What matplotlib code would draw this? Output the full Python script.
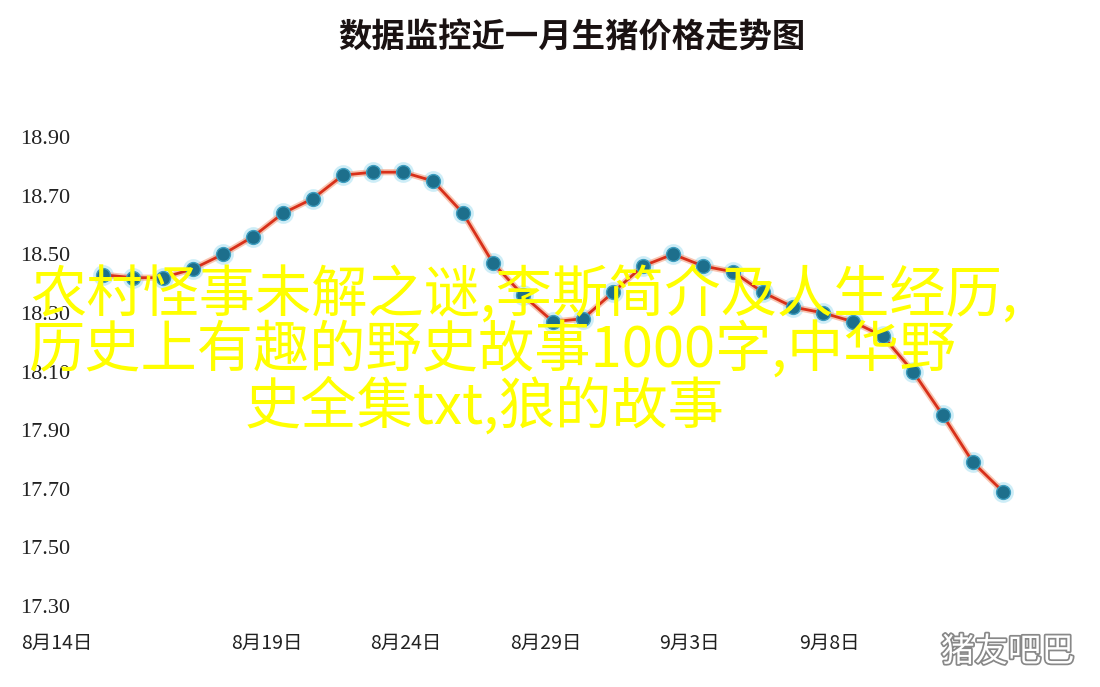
import matplotlib
matplotlib.use('Agg')
import matplotlib.pyplot as plt
import matplotlib.patheffects as pe

plt.rcParams['font.family'] = ['Noto Sans CJK SC', 'DejaVu Sans']

# DATA =========================================================================
title = '数据监控近一月生猪价格走势图'
prices = [18.43, 18.42, 18.42, 18.45, 18.50, 18.56, 18.64, 18.69, 18.77, 18.78,
          18.78, 18.75, 18.64, 18.47, 18.36, 18.27, 18.28, 18.37, 18.46, 18.50,
          18.46, 18.44, 18.37, 18.32, 18.30, 18.27, 18.22, 18.10, 17.95, 17.79,
          17.69]
days = list(range(len(prices)))
x_labels = ['8月14日', '8月19日', '8月24日', '8月29日', '9月3日', '9月8日']
x_label_pos = [-1.53, 5.47, 10.1, 14.75, 19.55, 24.2]
y_ticks = [17.30, 17.50, 17.70, 17.90, 18.10, 18.30, 18.50, 18.70, 18.90]
overlay_lines = ['农村怪事未解之谜,李斯简介及人生经历,',
                 '历史上有趣的野史故事1000字,中华野',
                 '史全集txt,狼的故事']
watermark = '猪友吧巴'

# FIGURE =======================================================================
W, H = 1100, 687
fig = plt.figure(figsize=(W / 100, H / 100), dpi=100)
fig.patch.set_facecolor('white')

ax_left, ax_right, ax_top, ax_bottom = 20, 1035, 120, 620
ax = fig.add_axes([ax_left / W, 1 - ax_bottom / H,
                   (ax_right - ax_left) / W, (ax_bottom - ax_top) / H])
ax.set_xlim(-(103 - ax_left) / 30, (ax_right - 103) / 30)
ax.set_ylim(17.30 - (ax_bottom - 606) / 293, 18.90 + (137 - ax_top) / 293)

# glow under markers, then line, then markers
ax.plot(days, prices, linestyle='none', marker='o', markersize=14,
        color='#c8ecf7', alpha=0.8, zorder=2)
ax.plot(days, prices, color='#f4a080', linewidth=4.5, alpha=0.6, zorder=3)
ax.plot(days, prices, color='#d8301a', linewidth=2.0, zorder=4)
ax.plot(days, prices, linestyle='none', marker='o', markersize=10,
        markerfacecolor='#1d6f8c', markeredgecolor='#3d9ec0',
        markeredgewidth=1.0, zorder=5)

for s in ax.spines.values():
    s.set_visible(False)

ax.set_yticks(y_ticks)
ax.set_yticklabels(['%.2f' % v for v in y_ticks], family='Liberation Serif',
                   fontsize=16, color='#222222')
for lab in ax.get_yticklabels():
    lab.set_horizontalalignment('left')
ax.tick_params(axis='y', length=0, pad=0)

ax.set_xticks(x_label_pos)
ax.set_xticklabels(x_labels, fontsize=14, color='#222222', fontweight='medium')
ax.tick_params(axis='x', length=0, pad=9)

fig.text(0.52, 1 - 38 / H, title, ha='center', va='center', fontsize=24,
         fontweight='heavy', color='#1a1212')

# yellow overlay text
fig.text(30 / W, 1 - 295 / H, overlay_lines[0], ha='left', va='center',
         fontsize=40.5, color='#ffff00')
fig.text(28 / W, 1 - 351 / H, overlay_lines[1], ha='left', va='center',
         fontsize=40.5, color='#ffff00')
fig.text(485 / W, 1 - 407 / H, overlay_lines[2], ha='center', va='center',
         fontsize=40.5, color='#ffff00')

fig.text(1008 / W, 1 - 652 / H, watermark, ha='center', va='center',
         fontsize=24, color='white',
         path_effects=[pe.withStroke(linewidth=2.5, foreground='#888888')])

fig.savefig('out.png', dpi=100, facecolor='white')
